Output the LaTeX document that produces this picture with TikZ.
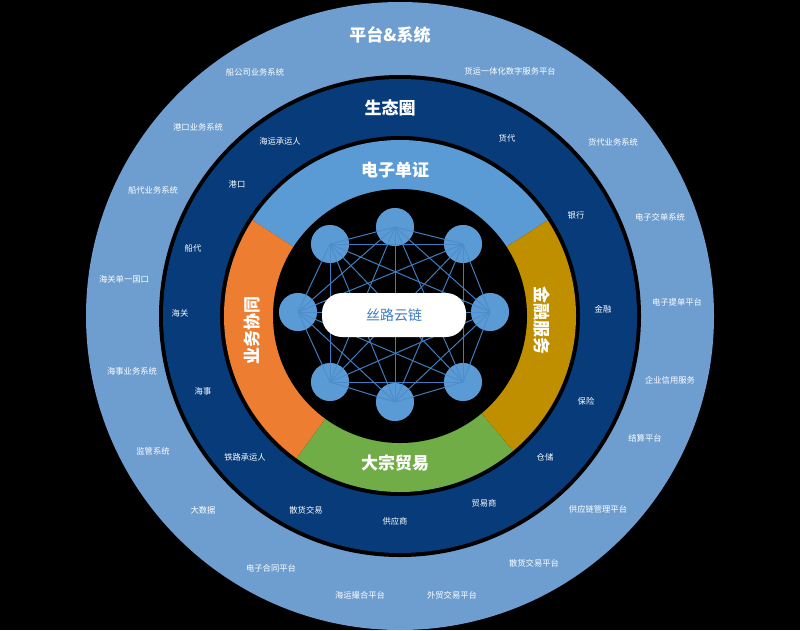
\documentclass[tikz,border=0pt]{standalone}
\usepackage{fontspec}
\setmainfont{Noto Sans CJK SC}
\definecolor{outerc}{HTML}{6E9ED0}
\definecolor{darkc}{HTML}{073B7A}
\definecolor{bluec}{HTML}{5B9BD5}
\definecolor{orangec}{HTML}{ED7D31}
\definecolor{greenc}{HTML}{70AD47}
\definecolor{goldc}{HTML}{BF8F00}
\definecolor{netc}{HTML}{3D7CC0}
\begin{document}
\begin{tikzpicture}[x=1pt,y=-1pt,
  sm/.style={text=white,font=\fontsize{8.3}{9}\selectfont},
  big/.style={text=white,font=\fontsize{17}{18}\selectfont\bfseries},
  nd/.style={circle,fill=bluec,minimum size=38pt,inner sep=0pt}]
\fill[black] (0,0) rectangle (800,630);
\useasboundingbox (0,0) rectangle (800,630);
\def\cx{400}\def\cy{316}
\fill[outerc] (\cx,\cy) circle (314);
\fill[black] (\cx,\cy) circle (241);
\fill[darkc] (\cx,\cy) circle (237);
\fill[black] (\cx,\cy) circle (180);
\fill[bluec] (\cx,\cy) -- ++(-33:176) arc[start angle=-33,end angle=-147,radius=176] -- cycle;
\fill[orangec] (\cx,\cy) -- ++(-147:176) arc[start angle=-147,end angle=-234,radius=176] -- cycle;
\fill[greenc] (\cx,\cy) -- ++(126:176) arc[start angle=126,end angle=50,radius=176] -- cycle;
\fill[goldc] (\cx,\cy) -- ++(50:176) arc[start angle=50,end angle=-33,radius=176] -- cycle;
\fill[black] (\cx,\cy) circle (127);
% network
\node[nd] (n1) at (395,227) {};
\node[nd] (n2) at (463,244) {};
\node[nd] (n3) at (490,312) {};
\node[nd] (n4) at (463,382) {};
\node[nd] (n5) at (395,402) {};
\node[nd] (n6) at (330,382) {};
\node[nd] (n7) at (298,312) {};
\node[nd] (n8) at (330,244) {};
\foreach \a in {1,...,8}{\foreach \b in {1,...,8}{\ifnum\a<\b
  \draw[netc,line width=1pt] (n\a.center) -- (n\b.center);\fi}}
\foreach \a in {1,...,8}{\fill[bluec,opacity=.55] (n\a) circle (19);}
\node[fill=white,rounded corners=20pt,minimum width=144pt,minimum height=44pt,text=netc,font=\fontsize{14}{15}\selectfont] (core) at (394,315) {丝路云链};
\node[big] (t1) at (390,35) {平台\&系统};
\node[big] (t2) at (390,108) {生态圈};
\node[big] (t3) at (395,170) {电子单证};
\node[big,rotate=90] (t4) at (252,330) {业务协同};
\node[big,rotate=-90] (t5) at (542,320) {金融服务};
\node[big] (t6) at (395,463) {大宗贸易};
\node[sm] (o1) at (255,72) {船公司业务系统};
\node[sm] (o2) at (510,71) {货运一体化数字服务平台};
\node[sm] (o3) at (198,127) {港口业务系统};
\node[sm] (o4) at (613,142) {货代业务系统};
\node[sm] (o5) at (153,190) {船代业务系统};
\node[sm] (o6) at (660,217) {电子交单系统};
\node[sm] (o7) at (124,279) {海关单一国口};
\node[sm] (o8) at (677,302) {电子提单平台};
\node[sm] (o9) at (132,371) {海事业务系统};
\node[sm] (o10) at (670,380) {企业信用服务};
\node[sm] (o11) at (153,451) {监管系统};
\node[sm] (o12) at (645,438) {结算平台};
\node[sm] (o13) at (203,510) {大数据};
\node[sm] (o14) at (598,509) {供应链管理平台};
\node[sm] (o15) at (271,568) {电子合同平台};
\node[sm] (o16) at (534,563) {散货交易平台};
\node[sm] (o17) at (360,595) {海运撮合平台};
\node[sm] (o18) at (452,595) {外贸交易平台};
\node[sm] (r1) at (280,141) {海运承运人};
\node[sm] (r2) at (507,138) {货代};
\node[sm] (r3) at (237,184) {港口};
\node[sm] (r4) at (576,215) {银行};
\node[sm] (r5) at (193,248) {船代};
\node[sm] (r6) at (603,309) {金融};
\node[sm] (r7) at (180,313) {海关};
\node[sm] (r8) at (586,401) {保险};
\node[sm] (r9) at (203,391) {海事};
\node[sm] (r10) at (545,457) {仓储};
\node[sm] (r11) at (245,457) {铁路承运人};
\node[sm] (r12) at (484,503) {贸易商};
\node[sm] (r13) at (306,510) {散货交易};
\node[sm] (r14) at (395,521) {供应商};
\end{tikzpicture}
\end{document}
